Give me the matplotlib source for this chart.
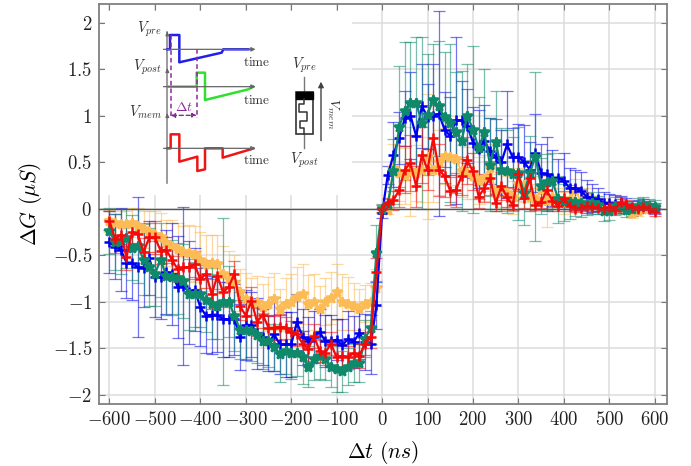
import numpy as np
import matplotlib
matplotlib.use('Agg')
import matplotlib.pyplot as plt
from matplotlib.patches import Rectangle

plt.rcParams['mathtext.fontset'] = 'cm'
plt.rcParams['font.family'] = ['DejaVu Serif']

W, H = 691, 466

# time axis, one sample every 12.5 ns
dt = np.arange(-600, 600.1, 12.5)

blue = [-.36,-.41,-.44,-.58,-.58,-.63,-.64,-.53,-.74,-.74,-.68,-.70,-.84,-.83,-.90,-.87,-1.06,-1.15,-1.14,-1.14,
        -1.19,-1.19,-1.19,-1.38,-1.25,-1.25,-1.34,-1.38,-1.45,-1.35,-1.46,-1.46,-1.46,-1.22,-1.38,-1.42,-1.38,-1.33,-1.42,-1.42,
        -1.41,-1.47,-1.40,-1.43,-1.34,-1.43,-1.46,-1.04,-.05,
        .36,.58,.76,.97,1.0,.78,1.1,.99,1.0,1.02,.85,.78,.95,.95,.89,.71,.64,.73,.62,.56,
        .50,.69,.55,.56,.50,.42,.6,.38,.37,.33,.33,.30,.22,.22,.19,.13,.11,.10,.06,.06,
        .05,.06,.03,.01,.02,.03,.02,.0]
blue_err = [.33,.35,.45,.38,.40,.75,.42,.40,.42,.45,.45,.55,.55,.85,.55,.45,.42,.40,.42,.40,
            .40,.40,.38,.35,.38,.35,.38,.30,.30,.40,.32,.35,.35,.30,.30,.25,.28,.25,.28,.28,
            .22,.28,.30,.28,.28,.30,.32,.25,.05,
            .10,.35,.28,.30,.47,.38,.45,.35,.55,1.1,.40,.42,.90,.42,.40,.38,.42,.38,.35,.40,
            .35,.58,.32,.35,.40,.30,.42,.32,.40,.30,.20,.30,.22,.20,.20,.18,.15,.12,.12,.10,
            .10,.08,.08,.07,.07,.07,.06,.06]

green = [-.24,-.36,-.35,-.32,-.42,-.40,-.55,-.63,-.70,-.55,-.72,-.74,-.75,-.78,-.92,-.92,-.92,-.98,-1.02,-1.05,
         -1.00,-1.00,-1.15,-1.30,-1.30,-1.32,-1.36,-1.42,-1.42,-1.49,-1.56,-1.53,-1.55,-1.55,-1.60,-1.70,-1.62,-1.58,-1.62,-1.70,
         -1.72,-1.75,-1.70,-1.66,-1.66,-1.40,-1.28,-.48,.0,
         .05,.40,.88,1.05,1.14,1.14,.92,1.01,1.17,1.10,.98,.92,.82,.73,1.0,.85,.65,.82,.47,.72,
         .42,.40,.37,.38,.17,.38,.56,.24,.29,.30,.10,.07,.07,.07,.06,.05,.06,.04,-.03,-.02,
         .03,.02,-.01,.0,.03,.05,.03,.02]
green_err = [.25,.30,.35,.32,.35,.40,.38,.42,.35,.40,.42,.40,.38,.40,.38,.35,.35,.35,.38,.35,
             .90,.38,.38,.32,.32,.32,.30,.30,.28,.25,.30,.25,.28,.25,.28,.22,.22,.25,.22,.22,
             .25,.22,.20,.20,.20,.20,.18,.30,.05,
             .05,.35,.65,.74,.65,.70,.92,.65,.60,.70,.70,.85,.65,.75,.55,.90,.55,.68,.50,.55,
             .45,.45,.40,.50,.35,.40,.91,.30,.30,.30,.25,.20,.18,.15,.15,.12,.12,.10,.10,.10,
             .10,.08,.08,.08,.08,.08,.07,.07]

red = [-.13,-.33,-.28,-.52,-.25,-.27,-.47,-.31,-.31,-.45,-.44,-.55,-.65,-.63,-.63,-.60,-.76,-.70,-.92,-.72,
       -.90,-.84,-.70,-1.05,-1.15,-.99,-1.22,-1.14,-1.28,-1.28,-1.27,-1.28,-1.33,-1.35,-1.45,-1.51,-1.37,-1.53,-1.55,-1.45,
       -1.6,-1.58,-1.6,-1.55,-1.58,-1.45,-1.38,-.68,.0,
       .06,.09,.20,.42,.49,.24,.58,.42,.76,.42,.35,.19,.20,.35,.52,.40,.13,.22,.33,.06,
       .24,.12,.04,.37,.11,.33,.04,.07,.20,.08,.03,.11,.03,.0,.01,.03,.02,.01,.0,.02,
       -.01,.07,.05,.02,.0,.02,.0,-.04]
red_err = [.10,.15,.12,.14,.12,.12,.15,.16,.18,.14,.14,.14,.14,.14,.13,.14,.15,.15,.16,.14,
           .16,.15,.14,.15,.15,.15,.15,.14,.14,.13,.14,.12,.12,.13,.13,.13,.13,.12,.13,.12,
           .13,.12,.12,.13,.13,.12,.12,.15,.04,
           .05,.10,.18,.25,.30,.22,.30,.22,.35,.28,.22,.15,.18,.20,.25,.20,.12,.15,.18,.08,
           .15,.10,.05,.18,.10,.18,.05,.06,.10,.06,.05,.08,.05,.04,.04,.04,.04,.03,.03,.04,
           .03,.05,.04,.03,.03,.03,.03,.04]

orange = [-.13,-.15,-.17,-.17,-.15,-.19,-.22,-.25,-.28,-.30,-.37,-.40,-.43,-.47,-.48,-.49,-.55,-.60,-.58,-.60,
          -.70,-.76,-.80,-.90,-.97,-1.0,-1.0,-1.06,-1.02,-.97,-1.08,-1.03,-1.0,-.95,-.92,-1.03,-1.0,-1.08,-1.0,-.96,
          -.90,-1.0,-1.02,-1.05,-1.08,-1.02,-1.0,-.85,.0,
          -.01,.44,.38,.35,.40,.38,.42,.56,.42,.50,.57,.55,.53,.40,.38,.35,.30,.33,.44,.17,
          .22,.17,.12,.26,.25,.12,.10,.20,.08,.12,.10,.06,.10,.20,.08,.12,.06,.05,.03,.0,
          .02,.04,.0,-.05,-.03,.0,.01,.0]
orange_err = [.12,.15,.14,.15,.16,.20,.20,.22,.25,.25,.25,.28,.28,.28,.30,.30,.30,.32,.30,.32,
              .30,.30,.30,.25,.28,.25,.28,.25,.28,.28,.22,.28,.30,.32,.32,.32,.30,.25,.25,.28,
              .30,.30,.28,.25,.22,.20,.20,.20,.04,
              .05,.25,.30,.30,.48,.30,.35,.67,.35,.35,.30,.30,.30,.28,.28,.25,.25,.25,.25,.20,
              .20,.18,.18,.18,.18,.15,.12,.15,.28,.15,.12,.12,.12,.12,.10,.10,.08,.08,.08,.06,
              .06,.06,.05,.05,.05,.05,.05,.05]

xticks = [-600, -500, -400, -300, -200, -100, 0, 100, 200, 300, 400, 500, 600]
yticks = [-2, -1.5, -1, -0.5, 0, 0.5, 1, 1.5, 2]
ylabels = ['$-2$', '$-1.5$', '$-1$', '$-0.5$', '$0$', '$0.5$', '$1$', '$1.5$', '$2$']

# inset waveforms, in the units of the inset panel
wave_blue_x = [232, 240, 240, 268, 268, 395, 400, 475]
wave_blue_y = [148, 148, 105, 105, 187, 158, 148, 148]
wave_green_x = [232, 320, 320, 345, 345, 475, 490]
wave_green_y = [260, 260, 218, 218, 300, 268, 260]
wave_red_x = [232, 242, 242, 268, 268, 322, 322, 345, 345, 398, 398, 475, 490]
wave_red_y = [445, 445, 403, 403, 485, 470, 513, 508, 445, 445, 473, 450, 445]
serp_x = [642, 642, 628, 628, 652, 652, 630, 630, 642, 642]
serp_y = [297, 312, 312, 335, 335, 362, 362, 385, 385, 403]

fig = plt.figure(figsize=(W / 100, H / 100), dpi=100)
ax = fig.add_axes([99 / W, 1 - 404 / H, (667 - 99) / W, 400 / H])

series = [(orange, orange_err, '#fdbb55', '*', 1.3),
          (blue, blue_err, '#0000f0', '+', 1.6),
          (green, green_err, '#10896b', '*', 1.6),
          (red, red_err, '#f50a0a', '+', 1.6)]
for vals, errs, col, mk, lw in series:
    ax.errorbar(dt, vals, yerr=errs, fmt='none', ecolor=col, elinewidth=0.9,
                capsize=4, capthick=0.9, alpha=0.55, zorder=2)
    ax.plot(dt, vals, color=col, lw=lw, marker=mk, ms=7.5, mew=1.8, zorder=3)

ax.axhline(0, color='#555555', lw=1, zorder=4)
ax.set_xlim(-623, 627)
ax.set_ylim(-2.1, 2.2)
ax.set_xticks(xticks)
ax.set_xticklabels([f'${v}$' if v >= 0 else f'$-{-v}$' for v in xticks])
ax.set_yticks(yticks)
ax.set_yticklabels(ylabels)
ax.tick_params(direction='in', top=True, right=True, length=4, width=0.8, color='#777777',
               labelsize=13.5, pad=5, labelcolor='#222222')
ax.grid(True, color='#dcdcdc', lw=1.1)
ax.set_axisbelow(True)
for s in ax.spines.values():
    s.set_color('#808080')
    s.set_linewidth(1.3)
ax.set_xlabel(r'$\Delta t\ (ns)$', fontsize=15.5, labelpad=7)
ax.set_ylabel(r'$\Delta G\ (\mu S)$', fontsize=15.5, labelpad=6)

# inset panel drawn on top, units are 1/3 px from (90, 0)
ins = fig.add_axes([90 / W, 1 - 200 / H, 280 / W, 200 / H], facecolor='none')
ins.set_xlim(0, 840)
ins.set_ylim(600, 0)
ins.axis('off')
ins.add_patch(Rectangle((45, 32), 740, 553, fc='white', ec='none'))

ins.plot([232, 232], [95, 550], color='#8a8a8a', lw=1.2)
for yb in [148, 260, 445]:
    ins.annotate('', xy=(505, yb), xytext=(212, yb),
                 arrowprops=dict(arrowstyle='-|>', color='#666666', lw=0.9, mutation_scale=6))
for yb in [95, 205, 340]:
    ins.annotate('', xy=(232, yb), xytext=(232, yb + 15),
                 arrowprops=dict(arrowstyle='-|>', color='#666666', lw=0.9, mutation_scale=5))
ins.plot(wave_blue_x, wave_blue_y, color='#2020e8', lw=1.8)
ins.plot(wave_green_x, wave_green_y, color='#30e030', lw=1.8)
ins.plot(wave_red_x, wave_red_y, color='#ee1515', lw=1.8)

ins.plot([242, 242], [105, 355], color='#8a2a9a', lw=1.1, ls=(0, (3, 2)))
ins.plot([320, 320], [148, 355], color='#8a2a9a', lw=1.1, ls=(0, (3, 2)))
ins.annotate('', xy=(320, 346), xytext=(242, 346),
             arrowprops=dict(arrowstyle='<|-|>', color='#8a2a9a', lw=1, ls=(0, (3, 2)), mutation_scale=6,
                             shrinkA=0, shrinkB=0))
ins.text(282, 320, r'$\Delta t$', color='#8a2a9a', fontsize=10, ha='center', va='center')

ins.text(215, 88, r'$V_{pre}$', fontsize=10.5, ha='right', va='center', color='#333333')
ins.text(215, 203, r'$V_{post}$', fontsize=10.5, ha='right', va='center', color='#333333')
ins.text(215, 338, r'$V_{mem}$', fontsize=10.5, ha='right', va='center', color='#333333')
for yb in [188, 300, 483]:
    ins.text(500, yb, r'$\mathrm{time}$', fontsize=9.5, ha='center', va='center', color='#333333')

# memristor symbol
ins.plot([642, 642], [232, 445], color='#777777', lw=1)
ins.add_patch(Rectangle((618, 275), 50, 128, fc='white', ec='#333333', lw=1.2, zorder=3))
ins.add_patch(Rectangle((618, 275), 50, 22, fc='black', ec='black', zorder=4))
ins.plot(serp_x, serp_y, color='#333333', lw=1.1, zorder=4)
ins.annotate('', xy=(693, 245), xytext=(693, 422),
             arrowprops=dict(arrowstyle='-|>', color='#444444', lw=1, mutation_scale=8, shrinkA=0, shrinkB=0))
ins.text(643, 197, r'$V_{pre}$', fontsize=10.5, ha='center', va='center', color='#333333')
ins.text(643, 480, r'$V_{post}$', fontsize=10.5, ha='center', va='center', color='#333333')
ins.text(727, 340, r'$V_{mem}$', fontsize=10, ha='center', va='center', rotation=-90, color='#333333')

fig.savefig('out.png', dpi=100)
